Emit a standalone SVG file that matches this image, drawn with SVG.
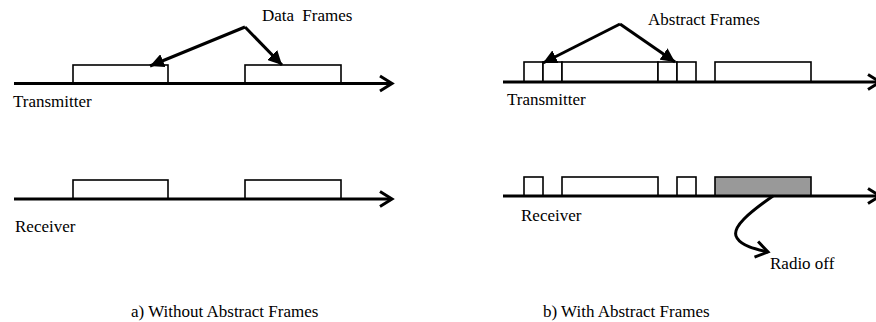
<svg xmlns="http://www.w3.org/2000/svg" width="876" height="322" viewBox="0 0 876 322">
<style>
.t{font-family:'Liberation Serif','Times New Roman','DejaVu Serif',serif;font-size:17px;fill:#000}
.box{fill:#fff;stroke:#000;stroke-width:1.6}
.off{fill:#999;stroke:#000;stroke-width:1.6}
.axis{stroke:#000;stroke-width:3;fill:none}
.head{stroke:#000;stroke-width:3;fill:none;stroke-linejoin:miter}
.ptr{stroke:#000;stroke-width:3;fill:none}
</style>
<defs>
<marker id="tri" markerUnits="userSpaceOnUse" markerWidth="16" markerHeight="14" refX="14" refY="7" orient="auto">
<path d="M0,0 L14,7 L0,14 Z" fill="#000"/>
</marker>
<marker id="chev" markerUnits="userSpaceOnUse" markerWidth="18" markerHeight="20" refX="15" refY="10" orient="auto">
<path d="M3,2 L15,10 L3,18" fill="none" stroke="#000" stroke-width="3"/>
</marker>
</defs>
<g id="panel-a">
<g id="tx-a">
<rect class="box" x="73" y="65" width="95" height="18"/>
<rect class="box" x="245" y="65" width="96" height="18"/>
<text class="t" x="13" y="107">Transmitter</text>
</g>
<g id="rx-a">
<rect class="box" x="73" y="180" width="95" height="19"/>
<rect class="box" x="245" y="180" width="96" height="19"/>
<text class="t" x="15" y="232">Receiver</text>
</g>
<g id="label-data"><text class="t" x="262" y="21" word-spacing="4">Data Frames</text></g>
<g id="caption-a"><text class="t" x="131" y="317">a) Without Abstract Frames</text></g>
</g>
<g id="panel-b">
<g id="tx-b">
<rect class="box" x="524" y="62" width="19" height="20"/>
<rect class="box" x="543" y="62" width="19" height="20"/>
<rect class="box" x="562" y="62" width="96" height="20"/>
<rect class="box" x="658" y="62" width="19" height="20"/>
<rect class="box" x="677" y="62" width="19" height="20"/>
<rect class="box" x="715" y="62" width="96" height="20"/>
<text class="t" x="507" y="105">Transmitter</text>
</g>
<g id="rx-b">
<rect class="box" x="524" y="177" width="19" height="19"/>
<rect class="box" x="562" y="177" width="96" height="19"/>
<rect class="box" x="677" y="177" width="19" height="19"/>
<rect class="off" x="715" y="177" width="96" height="19"/>
<text class="t" x="521" y="221">Receiver</text>
</g>
<g id="label-abstract"><text class="t" x="648" y="25">Abstract Frames</text></g>
<g id="label-radio"><text class="t" x="770" y="269">Radio off</text></g>
<g id="caption-b"><text class="t" x="543" y="317">b) With Abstract Frames</text></g>
</g>
<g id="connectors">
<path class="axis" d="M14,83.5 H391"/>
<path class="head" d="M380,76 L392,83.5 L380,91"/>
<path class="axis" d="M14,199 H391"/>
<path class="head" d="M380,191.5 L392,199 L380,206.5"/>
<path class="axis" d="M503,82 H879"/>
<path class="head" d="M868,74.5 L880,82 L868,89.5"/>
<path class="axis" d="M503,196 H879"/>
<path class="head" d="M868,188.5 L880,196 L868,203.5"/>
<path class="ptr" d="M245,27 L150,66" marker-end="url(#tri)"/>
<path class="ptr" d="M245,27 L282,65" marker-end="url(#tri)"/>
<path class="ptr" d="M620,24 L543,63" marker-end="url(#tri)"/>
<path class="ptr" d="M620,24 L675,62" marker-end="url(#tri)"/>
<path class="ptr" d="M773,196 C750,212 730,228 737,238 C742,246 755,249 768,252" marker-end="url(#chev)"/>
</g>
</svg>
